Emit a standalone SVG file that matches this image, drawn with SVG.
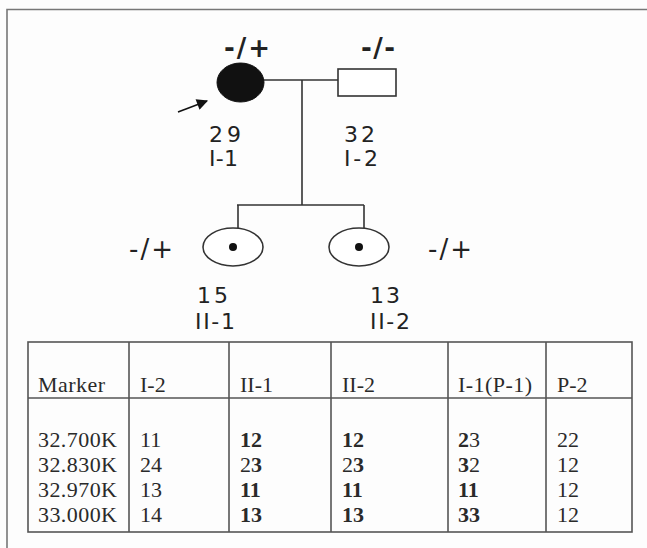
<svg xmlns="http://www.w3.org/2000/svg" width="647" height="548" viewBox="0 0 647 548">
  <defs>
    <marker id="arrowHead" viewBox="0 0 10 10" refX="9" refY="5" markerWidth="8" markerHeight="7" orient="auto" markerUnits="strokeWidth">
      <path d="M0,0 L10,5 L0,10 z" fill="#111"/>
    </marker>
  </defs>
  <style>
    .line { stroke: #333; stroke-width: 1.6; fill: none; }
    .sym { stroke: #333; stroke-width: 1.6; fill: #fff; }
    .ped { font-family: "DejaVu Sans", "Liberation Sans", sans-serif; font-size: 22px; fill: #222; }
    .geno { font-family: "DejaVu Sans", "Liberation Sans", sans-serif; font-size: 26px; fill: #222; }
    .grid { stroke: #555; stroke-width: 1.6; fill: none; }
    .cell { font-family: "Liberation Serif", "Times New Roman", serif; font-size: 22px; fill: #2a2a2a; }
    .b { font-weight: bold; }
  </style>

  <rect x="0" y="0" width="647" height="548" fill="#fdfdfd"/>
  <!-- outer frame -->
  <path d="M7,548 L7,9.5 L647,9.5" stroke="#777" stroke-width="1.6" fill="none"/>

  <!-- connectors -->
  <g id="connectors">
    <line class="line" x1="262" y1="80" x2="338" y2="80"/>
    <line class="line" x1="302" y1="80" x2="302" y2="205"/>
    <line class="line" x1="237" y1="205" x2="364" y2="205"/>
    <line class="line" x1="238" y1="205" x2="238" y2="229"/>
    <line class="line" x1="364" y1="205" x2="364" y2="229"/>
    <line x1="178" y1="112" x2="207" y2="101" stroke="#111" stroke-width="1.6" marker-end="url(#arrowHead)"/>
  </g>

  <!-- generation I -->
  <g id="node-I-1">
    <ellipse cx="240.5" cy="82.5" rx="23.5" ry="19.5" fill="#111" stroke="#111" stroke-width="1"/>
    <text class="geno" x="224" y="57" textLength="46" lengthAdjust="spacing" font-weight="bold">-/+</text>
    <text class="ped" x="209" y="142" textLength="32" lengthAdjust="spacing">29</text>
    <text class="ped" x="209" y="166" textLength="29" lengthAdjust="spacing">I-1</text>
  </g>
  <g id="node-I-2">
    <rect class="sym" x="338" y="69" width="58" height="27"/>
    <text class="geno" x="361" y="57" textLength="34" lengthAdjust="spacing" font-weight="bold">-/-</text>
    <text class="ped" x="344" y="142" textLength="31" lengthAdjust="spacing">32</text>
    <text class="ped" x="344" y="166" textLength="34" lengthAdjust="spacing">I-2</text>
  </g>

  <!-- generation II -->
  <g id="node-II-1">
    <ellipse class="sym" cx="233" cy="247" rx="30" ry="19"/>
    <circle cx="233" cy="247" r="4" fill="#111"/>
    <text class="geno" x="129" y="258" textLength="44" lengthAdjust="spacing">-/+</text>
    <text class="ped" x="197" y="303" textLength="31" lengthAdjust="spacing">15</text>
    <text class="ped" x="195" y="329" textLength="40" lengthAdjust="spacing">II-1</text>
  </g>
  <g id="node-II-2">
    <ellipse class="sym" cx="359" cy="247" rx="30" ry="19"/>
    <circle cx="359" cy="247" r="4" fill="#111"/>
    <text class="geno" x="428" y="258" textLength="44" lengthAdjust="spacing">-/+</text>
    <text class="ped" x="370" y="303" textLength="30" lengthAdjust="spacing">13</text>
    <text class="ped" x="370" y="329" textLength="40" lengthAdjust="spacing">II-2</text>
  </g>

  <!-- haplotype table -->
  <g id="table">
    <rect class="grid" x="28" y="342" width="604" height="190"/>
    <line class="grid" x1="28" y1="398" x2="632" y2="398"/>
    <line class="grid" x1="129" y1="342" x2="129" y2="532"/>
    <line class="grid" x1="229" y1="342" x2="229" y2="532"/>
    <line class="grid" x1="331" y1="342" x2="331" y2="532"/>
    <line class="grid" x1="448" y1="342" x2="448" y2="532"/>
    <line class="grid" x1="546" y1="342" x2="546" y2="532"/>

    <text class="cell" x="38" y="392" textLength="67" lengthAdjust="spacing">Marker</text>
    <text class="cell" x="140" y="392">I-2</text>
    <text class="cell" x="240" y="392">II-1</text>
    <text class="cell" x="342" y="392">II-2</text>
    <text class="cell" x="458" y="392" textLength="74" lengthAdjust="spacing">I-1(P-1)</text>
    <text class="cell" x="557" y="392">P-2</text>

    <text class="cell" x="38" y="447" textLength="79" lengthAdjust="spacing">32.700K</text>
    <text class="cell" x="38" y="472" textLength="79" lengthAdjust="spacing">32.830K</text>
    <text class="cell" x="38" y="497" textLength="79" lengthAdjust="spacing">32.970K</text>
    <text class="cell" x="38" y="522" textLength="79" lengthAdjust="spacing">33.000K</text>

    <text class="cell" x="140" y="447">11</text>
    <text class="cell" x="140" y="472">24</text>
    <text class="cell" x="140" y="497">13</text>
    <text class="cell" x="140" y="522">14</text>

    <text class="cell b" x="240" y="447">12</text>
    <text class="cell" x="240" y="472">2<tspan class="b">3</tspan></text>
    <text class="cell b" x="240" y="497">11</text>
    <text class="cell b" x="240" y="522">13</text>

    <text class="cell b" x="342" y="447">12</text>
    <text class="cell" x="342" y="472">2<tspan class="b">3</tspan></text>
    <text class="cell b" x="342" y="497">11</text>
    <text class="cell b" x="342" y="522">13</text>

    <text class="cell" x="458" y="447"><tspan class="b">2</tspan>3</text>
    <text class="cell" x="458" y="472"><tspan class="b">3</tspan>2</text>
    <text class="cell b" x="458" y="497">11</text>
    <text class="cell b" x="458" y="522">33</text>

    <text class="cell" x="557" y="447">22</text>
    <text class="cell" x="557" y="472">12</text>
    <text class="cell" x="557" y="497">12</text>
    <text class="cell" x="557" y="522">12</text>
  </g>
</svg>
